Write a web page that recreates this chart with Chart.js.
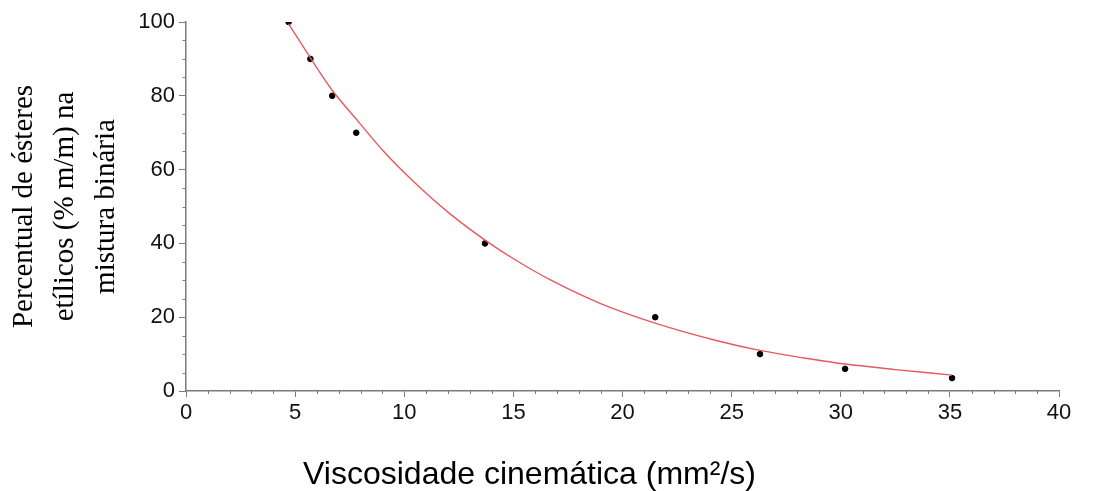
<!DOCTYPE html>
<html lang="pt">
<head>
    <meta charset="UTF-8">
    <title>Viscosidade cinemática x ésteres etílicos</title>
    <script src="https://cdn.jsdelivr.net/npm/chart.js@4"></script>
    <style>
        html, body {
            margin: 0;
            padding: 0;
            background: #fff;
        }
        .chart-box {
            width: 1105px;
            height: 491px;
        }
    </style>
</head>
<body>
    <div class="chart-box">
        <canvas id="viscChart"></canvas>
    </div>
    <script>
        // measured points (viscosity mm2/s vs % ethyl esters)
        const viscosity = [4.7, 5.7, 6.7, 7.8, 13.7, 21.5, 26.3, 30.2, 35.1];
        const esterPct = [100, 90, 80, 70, 40, 20, 10, 6, 3.5];

        // fitted curve
        const fitX = [4.7, 5.7, 6.7, 7.9, 9.0, 10.4, 12.1, 13.8, 15.1, 16.7, 19.0, 21.6, 24.3, 26.3, 28.7, 30.2, 32.5, 35.1];
        const fitY = [99.5, 90.3, 81.5, 73, 65.3, 56.9, 48, 40.5, 35.5, 30.1, 23.7, 18.2, 13.7, 11, 8.6, 7.3, 5.8, 4.3];

        const xTicks = [0, 5, 10, 15, 20, 25, 30, 35, 40];
        const yTicks = [0, 20, 40, 60, 80, 100];
        const xMinorStep = 1;
        const yMinorStep = 5;

        const axisGray = '#7a7a7a';

        // small minor tick marks between the labelled ones
        const minorTicks = {
            id: 'minorTicks',
            afterDraw(chart) {
                const { ctx, chartArea, scales } = chart;
                ctx.save();
                ctx.strokeStyle = axisGray;
                ctx.lineWidth = 1;
                ctx.beginPath();
                for (let v = xTicks[0]; v <= xTicks[xTicks.length - 1]; v += xMinorStep) {
                    if (xTicks.includes(v)) continue;
                    const px = Math.round(scales.x.getPixelForValue(v)) + 0.5;
                    ctx.moveTo(px, chartArea.bottom);
                    ctx.lineTo(px, chartArea.bottom + 3);
                }
                for (let v = yTicks[0]; v <= yTicks[yTicks.length - 1]; v += yMinorStep) {
                    if (yTicks.includes(v)) continue;
                    const py = Math.round(scales.y.getPixelForValue(v)) + 0.5;
                    ctx.moveTo(chartArea.left - 3.5, py);
                    ctx.lineTo(chartArea.left, py);
                }
                ctx.stroke();
                ctx.restore();
            }
        };

        const ctx = document.getElementById('viscChart').getContext('2d');
        new Chart(ctx, {
            type: 'scatter',
            data: {
                datasets: [{
                    label: 'Ajuste',
                    type: 'line',
                    data: fitX.map((x, i) => ({ x: x, y: fitY[i] })),
                    borderColor: '#e8585c',
                    borderWidth: 1.4,
                    pointRadius: 0,
                    fill: false,
                    cubicInterpolationMode: 'monotone'
                }, {
                    label: 'Dados',
                    data: viscosity.map((x, i) => ({ x: x, y: esterPct[i] })),
                    backgroundColor: '#000',
                    borderColor: '#000',
                    pointRadius: 2.8,
                    pointHoverRadius: 2.8
                }]
            },
            options: {
                responsive: true,
                maintainAspectRatio: false,
                animation: false,
                layout: {
                    padding: { left: 0, right: 46, top: 22, bottom: 0 }
                },
                plugins: {
                    legend: { display: false },
                    tooltip: { enabled: false },
                    title: {
                        display: true,
                        position: 'bottom',
                        text: 'Viscosidade cinemática (mm²/s)',
                        color: '#000',
                        font: { family: 'Liberation Sans, Arial, sans-serif', size: 32, weight: 'normal', lineHeight: 1.0 },
                        padding: { top: 0, bottom: 0 }
                    }
                },
                scales: {
                    x: {
                        type: 'linear',
                        min: xTicks[0],
                        max: xTicks[xTicks.length - 1],
                        ticks: {
                            stepSize: 5,
                            color: '#111',
                            padding: 3,
                            maxRotation: 0,
                            font: { family: 'Liberation Sans, Arial, sans-serif', size: 22 }
                        },
                        grid: {
                            drawOnChartArea: false,
                            drawTicks: true,
                            tickLength: 6,
                            color: axisGray
                        },
                        border: { display: true, color: axisGray, width: 1.5 },
                        afterFit(scale) {
                            scale.height = 68;
                            scale.paddingLeft = 0;
                            scale.paddingRight = 0;
                        }
                    },
                    y: {
                        type: 'linear',
                        min: yTicks[0],
                        max: yTicks[yTicks.length - 1],
                        ticks: {
                            stepSize: 20,
                            color: '#111',
                            padding: 4,
                            font: { family: 'Liberation Sans, Arial, sans-serif', size: 22 }
                        },
                        grid: {
                            drawOnChartArea: false,
                            drawTicks: true,
                            tickLength: 7,
                            color: axisGray
                        },
                        border: { display: true, color: axisGray, width: 1.5 },
                        title: {
                            display: true,
                            text: ['Percentual de ésteres', 'etílicos (% m/m) na', 'mistura binária'],
                            color: '#000',
                            font: { family: 'Liberation Serif, Times New Roman, serif', size: 29, lineHeight: 1.41 },
                            padding: { top: 4, bottom: 0 }
                        },
                        afterFit(scale) {
                            scale.width = 186;
                            scale.paddingTop = 0;
                            scale.paddingBottom = 0;
                        }
                    }
                }
            },
            plugins: [minorTicks]
        });
    </script>
</body>
</html>
